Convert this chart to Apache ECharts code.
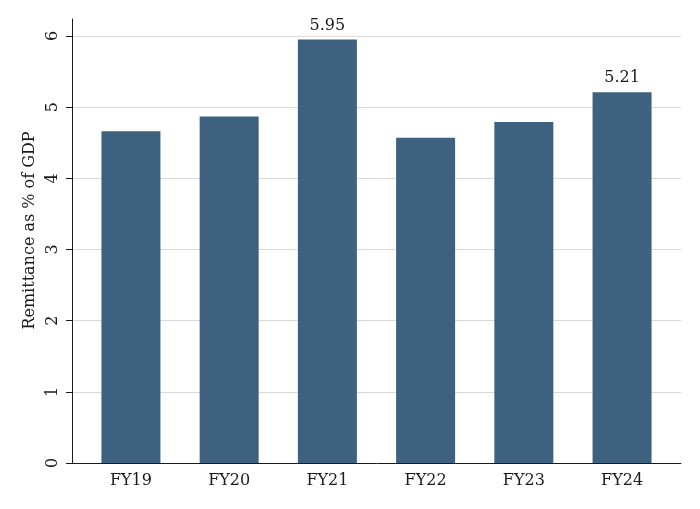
<!DOCTYPE html>
<html>
<head>
<meta charset="utf-8">
<script src="https://cdn.jsdelivr.net/npm/echarts@6/dist/echarts.min.js"></script>
<style>
  html, body { margin: 0; padding: 0; background: #fff; }
  #chart { width: 700px; height: 509px; }
</style>
</head>
<body>
<div id="chart"></div>
<script>
// remittance as % of GDP, by fiscal year
var categories = ['FY19', 'FY20', 'FY21', 'FY22', 'FY23', 'FY24'];
var values = [4.66, 4.87, 5.95, 4.57, 4.79, 5.21];
var labelled = ['FY21', 'FY24']; // bars that carry a value label
var yTicks = [0, 1, 2, 3, 4, 5, 6];

var font = 'DejaVu Serif';
var ink = '#1a1a1a';

var chart = echarts.init(document.getElementById('chart'), null, { renderer: 'canvas' });

var barData = categories.map(function (c, i) {
  return {
    value: [i, values[i]],
    label: { show: labelled.indexOf(c) !== -1 }
  };
});

chart.setOption({
  backgroundColor: '#fff',
  animation: false,
  grid: [
    { left: 72, right: 19, top: 36, bottom: 46 },
    { left: 72, right: 19, top: 19, bottom: 46 }   // only for the taller y axis line + title
  ],
  xAxis: [
    {
      type: 'value',
      gridIndex: 0,
      min: -0.6,
      max: 5.6,
      axisLine: { show: true, onZero: false, lineStyle: { color: ink, width: 1 } },
      axisTick: { show: false },
      splitLine: { show: false },
      axisLabel: {
        customValues: categories.map(function (c, i) { return i; }),
        formatter: function (v) { return categories[Math.round(v)]; },
        color: ink,
        fontFamily: font,
        fontSize: 16,
        margin: 10
      }
    },
    { type: 'value', gridIndex: 1, min: 0, max: 1, show: false }
  ],
  yAxis: [
    {
      type: 'value',
      gridIndex: 0,
      min: yTicks[0],
      max: yTicks[yTicks.length - 1],
      interval: 1,
      axisLine: { show: true, onZero: false, lineStyle: { color: ink, width: 1 } },
      axisTick: { show: true, length: 6, lineStyle: { color: ink } },
      axisLabel: {
        rotate: 90,
        color: ink,
        fontFamily: font,
        fontSize: 16,
        margin: 11
      },
      splitLine: { show: true, lineStyle: { color: '#d9d9d9', width: 1 } }
    },
    {
      type: 'value',
      gridIndex: 1,
      min: 0,
      max: 1,
      name: 'Remittance as % of GDP',
      nameLocation: 'middle',
      nameGap: 34,
      nameTextStyle: { color: ink, fontFamily: font, fontSize: 16, padding: [0, 0, 0, 21] },
      axisLine: { show: true, onZero: false, lineStyle: { color: ink, width: 1 } },
      axisTick: { show: false },
      axisLabel: { show: false },
      splitLine: { show: false }
    }
  ],
  series: [
    {
      type: 'bar',
      xAxisIndex: 0,
      yAxisIndex: 0,
      barWidth: 59,
      data: barData,
      itemStyle: { color: '#3e6180' },
      label: {
        position: 'top',
        distance: 6,
        color: ink,
        fontFamily: font,
        fontSize: 16,
        formatter: function (p) { return p.value[1].toFixed(2); }
      }
    }
  ]
});
</script>
</body>
</html>
